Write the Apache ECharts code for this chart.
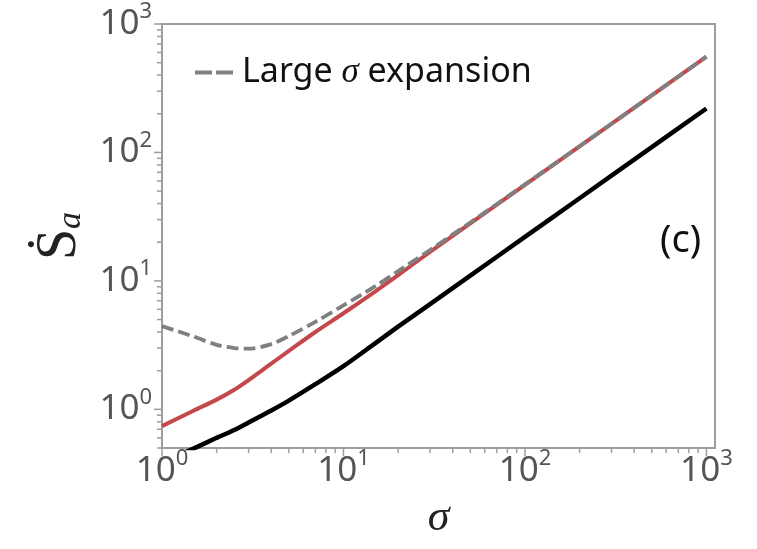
<!DOCTYPE html>
<html>
<head>
<meta charset="utf-8">
<script src="https://cdn.jsdelivr.net/npm/echarts@6/dist/echarts.min.js"></script>
<style>
  html, body { margin: 0; padding: 0; background: #fff; }
  #chart { width: 757px; height: 549px; }
</style>
</head>
<body>
<div id="chart"></div>
<script>
// Entropy production rate versus sigma (log-log)
const sigma = [1, 1.5, 2, 2.5, 3, 4, 5, 7, 10, 15, 20, 30, 50, 100, 200, 500, 1000];
const redCurve = [0.74, 0.98, 1.19, 1.42, 1.69, 2.27, 2.85, 4.0, 5.6, 8.3, 11.1, 16.8, 28.0, 56.0, 111.6, 278.6, 557];
const blackCurve = [0.385, 0.497, 0.6, 0.69, 0.79, 0.98, 1.17, 1.57, 2.17, 3.28, 4.4, 6.6, 11.0, 22.0, 44.0, 110.0, 220];
const largeSigma = [4.44, 3.68, 3.18, 3.0, 2.97, 3.22, 3.72, 4.8, 6.45, 9.1, 11.9, 17.4, 28.5, 56.4, 111.8, 278.7, 557];

const xMajorTicks = [1, 10, 100, 1000];
const xMinorTicks = [2, 3, 4, 5, 6, 7, 8, 9, 20, 30, 40, 50, 60, 70, 80, 90, 200, 300, 400, 500, 600, 700, 800, 900];
const yMajorTicks = [1, 10, 100, 1000];
const yMinorTicks = [0.5, 0.6, 0.7, 0.8, 0.9, 2, 3, 4, 5, 6, 7, 8, 9, 20, 30, 40, 50, 60, 70, 80, 90, 200, 300, 400, 500, 600, 700, 800, 900];

const X_MIN = 1, X_MAX = 1115;
const Y_MIN = 0.5, Y_MAX = 1000;

const FRAME = '#9d9d9d';
const LABEL_FONT = '"Noto Sans", sans-serif';
const MATH_FONT = '"Liberation Serif", "DejaVu Serif", serif';

function pairs(xs, ys) { return xs.map((x, i) => [x, ys[i]]); }

function powLabel(v) {
  const l = Math.log10(v);
  const e = Math.round(l);
  if (Math.abs(l - e) > 1e-6) return '';
  return '{b|10}{s|' + e + '}';
}

const labelRich = {
  b: { fontSize: 35, color: '#555', fontFamily: LABEL_FONT, lineHeight: 46, verticalAlign: 'middle' },
  s: { fontSize: 22, color: '#555', fontFamily: LABEL_FONT, lineHeight: 20, verticalAlign: 'top' }
};

// Outward tick marks drawn through the axis scales
function xTickSeries(values, len) {
  return {
    type: 'custom', silent: true, clip: false,
    data: values.map(v => [v, Y_MIN]),
    renderItem: (params, api) => {
      const p = api.coord([api.value(0), Y_MIN]);
      return { type: 'line', shape: { x1: p[0], y1: p[1], x2: p[0], y2: p[1] + len },
               style: { stroke: FRAME, lineWidth: 1.5 } };
    }
  };
}
function yTickSeries(values, len) {
  return {
    type: 'custom', silent: true, clip: false,
    data: values.map(v => [X_MIN, v]),
    renderItem: (params, api) => {
      const p = api.coord([X_MIN, api.value(1)]);
      return { type: 'line', shape: { x1: p[0], y1: p[1], x2: p[0] - len, y2: p[1] },
               style: { stroke: FRAME, lineWidth: 1.5 } };
    }
  };
}

const chart = echarts.init(document.getElementById('chart'));
chart.setOption({
  animation: false,
  backgroundColor: '#fff',
  grid: { left: 162, top: 24, right: 42, bottom: 101, show: true,
          borderColor: FRAME, borderWidth: 2, backgroundColor: 'transparent' },
  legend: {
    data: [{ name: 'Large σ expansion', icon: 'path://M0,0H17V4H0Z M21,0H38V4H21Z' }],
    left: 190, top: 50,
    itemWidth: 38, itemHeight: 4, symbolKeepAspect: false,
    formatter: () => '{p|}{t|Large }{g|σ}{t| expansion}',
    textStyle: {
      rich: {
        p: { width: 4 },
        t: { fontSize: 34, color: '#111', fontFamily: LABEL_FONT },
        g: { fontSize: 35, color: '#111', fontFamily: MATH_FONT, fontStyle: 'italic' }
      }
    }
  },
  xAxis: {
    type: 'log', logBase: 10, min: X_MIN, max: X_MAX,
    name: 'σ', nameLocation: 'middle', nameGap: 48,
    nameTextStyle: { fontSize: 44, fontFamily: MATH_FONT, fontStyle: 'italic', color: '#222' },
    axisLine: { show: false }, axisTick: { show: false }, splitLine: { show: false },
    minorTick: { show: false },
    axisLabel: { formatter: powLabel, margin: 0, rich: labelRich, showMaxLabel: true, hideOverlap: false }
  },
  yAxis: {
    type: 'log', logBase: 10, min: Y_MIN, max: Y_MAX,
    name: '{s|Ṡ}{a|a}', nameLocation: 'middle', nameGap: 74, nameRotate: 90,
    nameTextStyle: {
      rich: {
        s: { fontSize: 56, fontFamily: MATH_FONT, color: '#222', verticalAlign: 'bottom', lineHeight: 60 },
        a: { fontSize: 34, fontFamily: MATH_FONT, fontStyle: 'italic', color: '#222', verticalAlign: 'bottom', lineHeight: 40 }
      }
    },
    axisLine: { show: false }, axisTick: { show: false }, splitLine: { show: false },
    axisLabel: { formatter: powLabel, margin: 10, rich: labelRich, hideOverlap: false }
  },
  series: [
    xTickSeries(xMajorTicks, 8), xTickSeries(xMinorTicks, 5),
    yTickSeries(yMajorTicks, 8), yTickSeries(yMinorTicks, 5),
    {
      name: 'black', type: 'line', data: pairs(sigma, blackCurve), smooth: 0.3,
      showSymbol: false, clip: true,
      lineStyle: { color: '#000', width: 4.5 }
    },
    {
      name: 'red', type: 'line', data: pairs(sigma, redCurve), smooth: 0.3,
      showSymbol: false, clip: true,
      lineStyle: { color: '#c4484b', width: 4 }
    },
    {
      name: 'Large σ expansion', type: 'line', data: pairs(sigma, largeSigma), smooth: 0.3,
      showSymbol: false, symbol: 'none', clip: true, itemStyle: { color: '#808080' },
      lineStyle: { color: '#808080', width: 3.8, type: [12, 5] }
    }
  ],
  graphic: [
    { type: 'text', left: 660, top: 222,
      style: { text: '(c)', fontSize: 38, fontFamily: LABEL_FONT, fill: '#111' } }
  ]
});
</script>
</body>
</html>
